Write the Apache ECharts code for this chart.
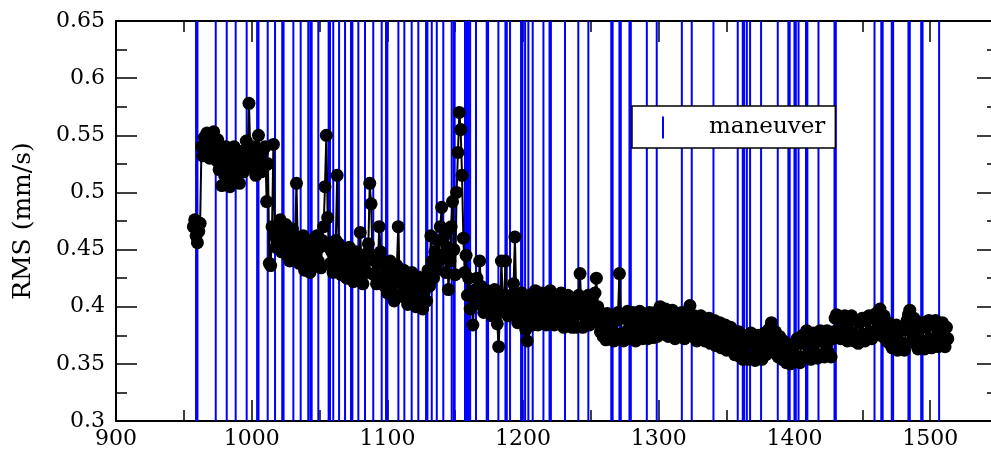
<!DOCTYPE html>
<html>
<head>
<meta charset="utf-8">
<script src="https://cdn.jsdelivr.net/npm/echarts@6/dist/echarts.min.js"></script>
<style>html,body{margin:0;padding:0;background:#fff;}#c{width:991px;height:458px;}</style>
</head>
<body>
<div id="c"></div>
<script>
// ---- data ----
const xMin = 900, xMax = 1550, xStep = 100;
const yMin = 0.3, yMax = 0.65, yStep = 0.05;
const yAxisName = 'RMS (mm/s)';
const legendName = 'maneuver';

// RMS points: [day, value]
const rmsPoints = [
[957,0.470],[958,0.476],[959,0.462],[960,0.456],[961,0.466],[962,0.473],
[963,0.540],[964,0.532],[965,0.548],[966,0.538],[967,0.552],[968,0.544],[969,0.530],[970,0.548],[971,0.536],[972,0.553],[973,0.541],[974,0.528],[975,0.546],[976,0.520],[977,0.536],[978,0.506],[979,0.528],[980,0.515],[981,0.540],[982,0.510],[983,0.525],[984,0.505],[985,0.532],[986,0.518],[987,0.540],[988,0.522],[989,0.512],[990,0.530],[991,0.508],[992,0.524],[993,0.536],[994,0.518],[995,0.532],[996,0.545],[997,0.528],[998,0.578],[999,0.535],[1000,0.522],[1001,0.540],[1002,0.530],[1003,0.515],[1004,0.538],[1005,0.550],[1006,0.528],[1007,0.518],[1008,0.535],[1009,0.522],[1010,0.540],[1011,0.492],[1012,0.525],[1013,0.438],[1014,0.436],[1015,0.470],[1016,0.542],[1017,0.462],[1018,0.452],[1019,0.468],[1020,0.458],[1021,0.476],[1022,0.448],[1023,0.465],[1024,0.455],[1025,0.472],[1026,0.445],[1027,0.460],[1028,0.440],[1029,0.455],[1030,0.468],[1031,0.448],[1032,0.462],[1033,0.508],[1034,0.450],[1035,0.438],[1036,0.456],[1037,0.444],[1038,0.462],[1039,0.432],[1040,0.450],[1041,0.440],[1042,0.458],[1043,0.430],[1044,0.446],[1045,0.456],[1046,0.436],[1047,0.450],[1048,0.462],[1049,0.440],[1050,0.452],[1051,0.434],[1052,0.458],[1053,0.470],[1054,0.505],[1055,0.550],[1056,0.478],[1057,0.452],[1058,0.438],[1059,0.448],[1060,0.430],[1061,0.445],[1062,0.458],[1063,0.515],[1064,0.455],[1065,0.438],[1066,0.428],[1067,0.445],[1068,0.432],[1069,0.450],[1070,0.425],[1071,0.440],[1072,0.452],[1073,0.430],[1074,0.444],[1075,0.422],[1076,0.438],[1077,0.448],[1078,0.428],[1079,0.440],[1080,0.465],[1081,0.432],[1082,0.420],[1083,0.436],[1084,0.446],[1085,0.430],[1086,0.455],[1087,0.508],[1088,0.490],[1089,0.445],[1090,0.428],[1091,0.440],[1092,0.420],[1093,0.436],[1094,0.470],[1095,0.448],[1096,0.425],[1097,0.438],[1098,0.418],[1099,0.432],[1100,0.412],[1101,0.428],[1102,0.440],[1103,0.415],[1104,0.430],[1105,0.405],[1106,0.422],[1107,0.436],[1108,0.470],[1109,0.425],[1110,0.410],[1111,0.420],[1112,0.432],[1113,0.408],[1114,0.418],[1115,0.402],[1116,0.425],[1117,0.412],[1118,0.430],[1119,0.405],[1120,0.418],[1121,0.400],[1122,0.415],[1123,0.426],[1124,0.404],[1125,0.416],[1126,0.398],[1127,0.412],[1128,0.424],[1129,0.405],[1130,0.432],[1131,0.418],[1132,0.462],[1133,0.440],[1134,0.425],[1135,0.448],[1136,0.432],[1137,0.458],[1138,0.440],[1139,0.470],[1140,0.487],[1141,0.445],[1142,0.462],[1143,0.430],[1144,0.452],[1145,0.415],[1146,0.440],[1147,0.470],[1148,0.492],[1149,0.450],[1150,0.428],[1151,0.500],[1152,0.535],[1153,0.570],[1154,0.555],[1155,0.515],[1156,0.460],[1157,0.430],[1158,0.445],[1159,0.410],[1160,0.425],[1161,0.398],[1162,0.410],[1163,0.384],[1164,0.402],[1165,0.415],[1166,0.425],[1167,0.408],[1168,0.440],[1169,0.418],[1170,0.405],[1171,0.395],[1172,0.410],[1173,0.400],[1174,0.414],[1175,0.398],[1176,0.408],[1177,0.392],[1178,0.405],[1179,0.415],[1180,0.400],[1181,0.385],[1182,0.365],[1183,0.395],[1184,0.440],[1185,0.410],[1186,0.398],[1187,0.440],[1188,0.405],[1189,0.392],[1190,0.402],[1191,0.410],[1192,0.395],[1193,0.420],[1194,0.461],[1195,0.405],
[1196,0.386],[1197,0.408],[1198,0.396],[1199,0.412],[1200,0.388],[1201,0.404],[1202,0.380],[1203,0.370],[1204,0.390],[1205,0.410],[1206,0.398],[1207,0.384],[1208,0.404],[1209,0.414],[1210,0.394],[1211,0.384],[1212,0.406],[1213,0.392],[1214,0.412],[1215,0.386],[1216,0.400],[1217,0.384],[1218,0.408],[1219,0.394],[1220,0.414],[1221,0.388],[1222,0.404],[1223,0.384],[1224,0.398],[1225,0.410],[1226,0.386],[1227,0.402],[1228,0.412],[1229,0.392],[1230,0.382],[1231,0.404],[1232,0.394],[1233,0.410],[1234,0.386],[1235,0.400],[1236,0.382],[1237,0.406],[1238,0.392],[1239,0.382],[1240,0.398],[1241,0.410],[1242,0.429],[1243,0.394],[1244,0.382],[1245,0.404],[1246,0.386],[1247,0.398],[1248,0.410],[1249,0.384],[1250,0.396],[1251,0.408],[1252,0.388],[1253,0.412],[1254,0.425],[1255,0.400],[1256,0.386],[1257,0.378],[1258,0.394],[1259,0.374],
[1260,0.388],[1261,0.371],[1262,0.394],[1263,0.380],[1264,0.372],[1265,0.392],[1266,0.378],[1267,0.370],[1268,0.388],[1269,0.376],[1270,0.395],[1271,0.429],[1272,0.390],[1273,0.376],[1274,0.370],[1275,0.390],[1276,0.378],[1277,0.396],[1278,0.372],[1279,0.388],[1280,0.374],[1281,0.395],[1282,0.380],[1283,0.370],[1284,0.390],[1285,0.377],[1286,0.396],[1287,0.382],[1288,0.372],[1289,0.392],[1290,0.378],[1291,0.388],[1292,0.372],[1293,0.395],[1294,0.380],[1295,0.390],[1296,0.373],[1297,0.395],[1298,0.382],[1299,0.374],
[1300,0.392],[1301,0.400],[1302,0.380],[1303,0.394],[1304,0.376],[1305,0.398],[1306,0.384],[1307,0.374],[1308,0.392],[1309,0.378],[1310,0.397],[1311,0.382],[1312,0.372],[1313,0.392],[1314,0.376],[1315,0.390],[1316,0.374],[1317,0.395],[1318,0.382],[1319,0.372],[1320,0.392],[1321,0.378],[1322,0.396],[1323,0.401],[1324,0.384],[1325,0.374],[1326,0.392],[1327,0.378],[1328,0.370],[1329,0.390],[1330,0.376],[1331,0.392],[1332,0.372],[1333,0.386],[1334,0.370],[1335,0.388],[1336,0.374],[1337,0.390],[1338,0.368],[1339,0.384],
[1340,0.372],[1341,0.388],[1342,0.366],[1343,0.382],[1344,0.370],[1345,0.386],[1346,0.364],[1347,0.380],[1348,0.368],[1349,0.384],[1350,0.362],[1351,0.378],[1352,0.366],[1353,0.382],[1354,0.362],[1355,0.376],[1356,0.358],[1357,0.374],[1358,0.362],[1359,0.378],
[1360,0.356],[1361,0.372],[1362,0.354],[1363,0.370],[1364,0.358],[1365,0.375],[1366,0.354],[1367,0.368],[1368,0.377],[1369,0.356],[1370,0.370],[1371,0.353],[1372,0.366],[1373,0.375],[1374,0.356],[1375,0.370],[1376,0.354],[1377,0.368],[1378,0.377],[1379,0.358],[1380,0.372],[1381,0.380],[1382,0.362],[1383,0.386],[1384,0.370],[1385,0.360],[1386,0.378],[1387,0.364],[1388,0.356],[1389,0.374],
[1390,0.360],[1391,0.354],[1392,0.370],[1393,0.356],[1394,0.351],[1395,0.366],[1396,0.352],[1397,0.350],[1398,0.364],[1399,0.352],[1400,0.368],[1401,0.354],[1402,0.372],[1403,0.356],[1404,0.351],[1405,0.368],
[1406,0.375],[1407,0.356],[1408,0.370],[1409,0.379],[1410,0.358],[1411,0.372],[1412,0.354],[1413,0.368],[1414,0.377],[1415,0.358],[1416,0.372],[1417,0.355],[1418,0.370],[1419,0.379],[1420,0.358],[1421,0.372],[1422,0.356],[1423,0.370],[1424,0.379],[1425,0.360],[1426,0.374],[1427,0.356],[1428,0.372],[1429,0.378],
[1430,0.390],[1431,0.393],[1432,0.376],[1433,0.390],[1434,0.372],[1435,0.388],[1436,0.374],[1437,0.392],[1438,0.378],[1439,0.370],[1440,0.388],[1441,0.374],[1442,0.392],[1443,0.377],[1444,0.370],[1445,0.388],[1446,0.374],[1447,0.368],[1448,0.386],[1449,0.372],[1450,0.390],[1451,0.376],[1452,0.370],[1453,0.388],[1454,0.374],[1455,0.392],[1456,0.378],[1457,0.372],[1458,0.390],[1459,0.376],[1460,0.394],[1461,0.380],[1462,0.392],[1463,0.398],[1464,0.384],[1465,0.374],[1466,0.392],[1467,0.378],[1468,0.370],[1469,0.386],
[1470,0.368],[1471,0.382],[1472,0.364],[1473,0.380],[1474,0.366],[1475,0.384],[1476,0.362],[1477,0.378],[1478,0.364],[1479,0.382],[1480,0.368],[1481,0.362],[1482,0.380],[1483,0.388],[1484,0.393],
[1485,0.397],[1486,0.382],[1487,0.372],[1488,0.390],[1489,0.368],[1490,0.384],[1491,0.363],[1492,0.380],[1493,0.366],[1494,0.386],[1495,0.370],[1496,0.363],[1497,0.382],[1498,0.368],[1499,0.388],[1500,0.372],[1501,0.364],[1502,0.384],[1503,0.370],[1504,0.388],[1505,0.374],[1506,0.365],[1507,0.384],[1508,0.368],[1509,0.386],[1510,0.372],[1511,0.365],[1512,0.382],[1513,0.372]
];

// maneuver epochs (days)
const maneuverDays = [959,960,973.5,981.6,988.2,996.3,1004,1005,1011.8,1017.2,1022.5,1023.5,1030.7,1036.1,1041.7,1043.2,1044.2,1049.1,1056.7,1057.7,1060.1,1064.4,1068.8,1073.2,1074.2,1078.6,1083.5,1089.6,1095.8,1099,1100,1108.1,1112.5,1117.9,1122.8,1128.5,1129.5,1132.7,1136.4,1141.2,1147.4,1148.8,1149.6,1157.2,1158.2,1159,1160,1161,1165.3,1173.2,1174.2,1181.8,1187,1188,1190.4,1198.5,1199.5,1201.5,1203.9,1207.1,1215,1219.5,1220.5,1230.9,1240.7,1248.1,1265,1266,1271,1272,1278.4,1279.4,1291.2,1298.5,1317,1324.3,1340.3,1358.2,1361.9,1362.9,1364.9,1367.3,1375.4,1387.7,1395.5,1396.5,1400,1401,1403,1408.5,1409.5,1417.7,1429.5,1430.5,1459,1464,1465,1471.7,1472.7,1484,1485,1493.4,1494.4,1506.6];

// ---- chart ----
const FONT = 'DejaVu Serif';
const chart = echarts.init(document.getElementById('c'), null, {renderer: 'canvas'});
const axisLine = {show: true, lineStyle: {color: '#000', width: 2}};
const tick = {show: true, inside: true, length: 21, lineStyle: {color: '#000', width: 1.5}};
const minorTick = {show: true, splitNumber: 2, length: 11, lineStyle: {color: '#000', width: 1.5}};
const label = {color: '#000', fontFamily: FONT, fontSize: 22, formatter: v => String(v)};

chart.setOption({
  animation: false,
  backgroundColor: '#fff',
  grid: {left: 116, top: 21, width: 882, height: 400, containLabel: false, outerBoundsMode: 'none'},
  legend: {
    show: true,
    data: [legendName],
    left: 632, top: 106,
    orient: 'vertical',
    backgroundColor: '#fff',
    borderColor: '#000',
    borderWidth: 1.5,
    borderRadius: 0,
    padding: [10, 10, 9, 30],
    itemWidth: 42, itemHeight: 22,
    icon: 'path://M0,0 h2 v22 h-2 Z M41.99,0 h0.01 v0.01 h-0.01 Z',
    textStyle: {color: '#000', fontFamily: FONT, fontSize: 23},
    selectedMode: false
  },
  xAxis: [
    {type: 'value', min: xMin, max: xMax, interval: xStep, position: 'bottom',
     axisLine, axisTick: tick, minorTick, splitLine: {show: false},
     axisLabel: Object.assign({margin: 7, showMaxLabel: false}, label)},
    {type: 'value', min: xMin, max: xMax, interval: xStep, position: 'top',
     axisLine, axisTick: tick, minorTick, splitLine: {show: false},
     axisLabel: {show: false}}
  ],
  yAxis: [
    {type: 'value', min: yMin, max: yMax, interval: yStep, position: 'left',
     name: yAxisName, nameLocation: 'middle', nameGap: 80, nameRotate: 90,
     nameTextStyle: {color: '#000', fontFamily: FONT, fontSize: 25},
     axisLine, axisTick: tick, minorTick, splitLine: {show: false},
     axisLabel: Object.assign({margin: 11}, label)},
    {type: 'value', min: yMin, max: yMax, interval: yStep, position: 'right',
     axisLine, axisTick: tick, minorTick, splitLine: {show: false},
     axisLabel: {show: false}}
  ],
  series: [
    {
      name: legendName,
      type: 'custom',
      xAxisIndex: 0, yAxisIndex: 0,
      color: '#0000ff',
      itemStyle: {color: '#0000ff'},
      silent: true,
      z: 1,
      clip: true,
      encode: {x: 0},
      data: maneuverDays.map(d => [d]),
      renderItem: function (params, api) {
        const d = api.value(0);
        const p1 = api.coord([d, yMax]);
        const p2 = api.coord([d, yMin]);
        return {type: 'line', shape: {x1: p1[0], y1: p1[1], x2: p2[0], y2: p2[1]},
                style: {stroke: '#0000ff', lineWidth: 2}};
      }
    },
    {
      name: 'RMS',
      type: 'line',
      xAxisIndex: 0, yAxisIndex: 0,
      z: 3,
      data: rmsPoints,
      symbol: 'circle',
      symbolSize: 13,
      showAllSymbol: true,
      itemStyle: {color: '#000'},
      lineStyle: {color: '#000', width: 2},
      silent: true
    }
  ]
});
</script>
</body>
</html>
